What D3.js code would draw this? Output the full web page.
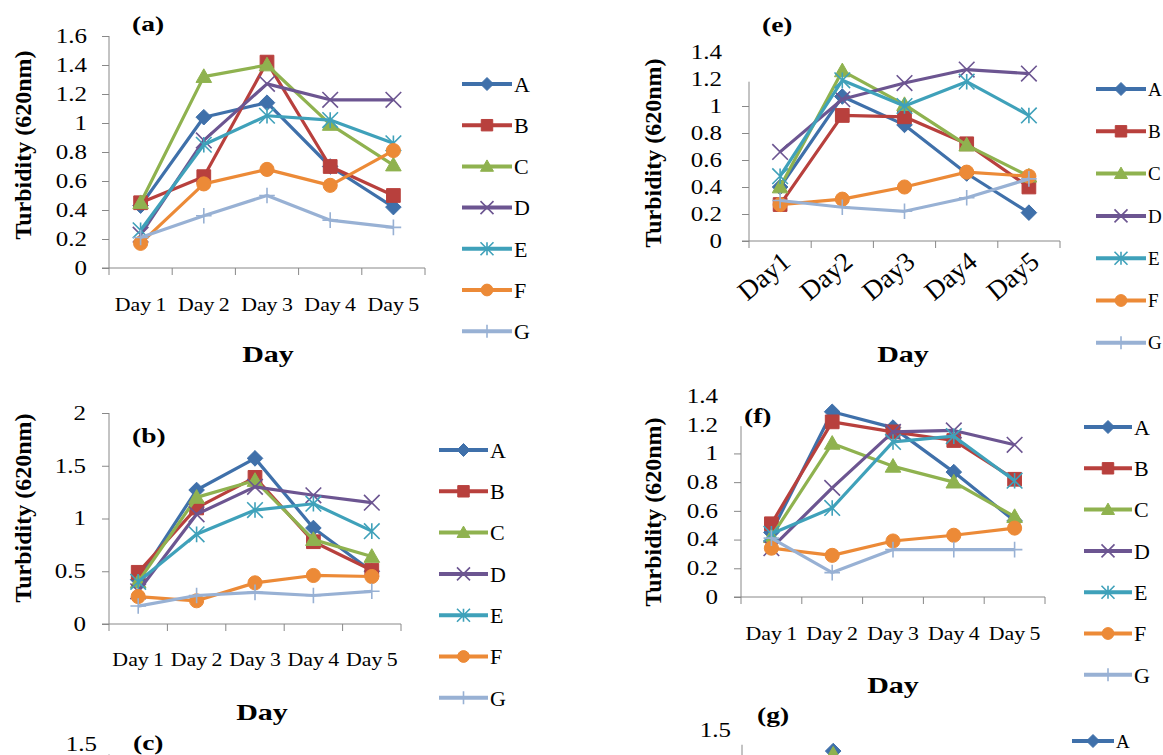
<!DOCTYPE html>
<html>
<head>
<meta charset="utf-8">
<script src="https://cdn.jsdelivr.net/npm/d3@7"></script>
<style>
  body { margin: 0; background: #fff; }
  svg { display: block; }
  text { font-family: "Liberation Serif", "Times New Roman", serif; fill: #000; }
</style>
</head>
<body>
<svg width="1163" height="755"></svg>
<script>
// ***Data***
var days = ["Day1", "Day2", "Day3", "Day4", "Day5"];
var seriesNames = ["A", "B", "C", "D", "E", "F", "G"];
var seriesColors = ["#3f70aa", "#b8403d", "#8fb24f", "#6c5591", "#3fa1ba", "#ec8a37", "#98b1d4"];
var seriesMarkers = ["diamond", "square", "triangle", "x", "star", "circle", "plus"];

// panel (a)
var aA = [0.43, 1.04, 1.14, 0.70, 0.42];
var aB = [0.45, 0.63, 1.42, 0.70, 0.50];
var aC = [0.45, 1.32, 1.40, 0.99, 0.71];
var aD = [0.23, 0.88, 1.27, 1.16, 1.16];
var aE = [0.26, 0.85, 1.05, 1.02, 0.86];
var aF = [0.17, 0.58, 0.68, 0.57, 0.81];
var aG = [0.21, 0.36, 0.50, 0.33, 0.28];
var aTicks = [0, 0.2, 0.4, 0.6, 0.8, 1, 1.2, 1.4, 1.6];

// panel (b)
var bA = [0.42, 1.27, 1.57, 0.91, 0.50];
var bB = [0.49, 1.10, 1.39, 0.78, 0.51];
var bC = [0.40, 1.20, 1.36, 0.80, 0.64];
var bD = [0.31, 1.04, 1.30, 1.22, 1.15];
var bE = [0.40, 0.85, 1.08, 1.14, 0.88];
var bF = [0.26, 0.22, 0.39, 0.46, 0.45];
var bG = [0.17, 0.27, 0.30, 0.27, 0.31];
var bTicks = [0, 0.5, 1, 1.5, 2];

// panel (e)
var eA = [0.40, 1.07, 0.86, 0.50, 0.21];
var eB = [0.27, 0.93, 0.92, 0.72, 0.40];
var eC = [0.40, 1.26, 1.01, 0.71, 0.48];
var eD = [0.66, 1.05, 1.17, 1.27, 1.24];
var eE = [0.48, 1.19, 1.00, 1.18, 0.93];
var eF = [0.27, 0.31, 0.40, 0.51, 0.48];
var eG = [0.30, 0.25, 0.22, 0.32, 0.46];
var eTicks = [0, 0.2, 0.4, 0.6, 0.8, 1, 1.2, 1.4];

// panel (f)
var fA = [0.45, 1.29, 1.18, 0.87, 0.53];
var fB = [0.51, 1.22, 1.15, 1.09, 0.82];
var fC = [0.42, 1.07, 0.91, 0.80, 0.56];
var fD = [0.34, 0.76, 1.15, 1.16, 1.06];
var fE = [0.44, 0.62, 1.08, 1.12, 0.81];
var fF = [0.34, 0.29, 0.39, 0.43, 0.48];
var fG = [0.41, 0.17, 0.33, 0.33, 0.33];
var fTicks = [0, 0.2, 0.4, 0.6, 0.8, 1, 1.2, 1.4];

// panels (c) and (g) are cut off by the bottom edge, only their tops show
var cTicks = [1.5];
var gA = [null, 1.30, null, null, null];
var gC = [null, 1.27, null, null, null];
var gTicks = [1.5];

var svg = d3.select("svg");

function markerPath(type, s) {
  if (type == "diamond") return "M0," + (-s) + "L" + s + ",0L0," + s + "L" + (-s) + ",0Z";
  if (type == "square") { var h = s * 0.88; return "M" + (-h) + "," + (-h) + "H" + h + "V" + h + "H" + (-h) + "Z"; }
  if (type == "triangle") return "M0," + (-s) + "L" + s + "," + (s * 0.75) + "L" + (-s) + "," + (s * 0.75) + "Z";
  if (type == "circle") return d3.symbol(d3.symbolCircle, Math.PI * s * s * 0.82)();
  if (type == "x") return "M" + (-s) + "," + (-s) + "L" + s + "," + s + "M" + (-s) + "," + s + "L" + s + "," + (-s);
  if (type == "star") return "M" + (-s) + "," + (-s) + "L" + s + "," + s + "M" + (-s) + "," + s + "L" + s + "," + (-s) + "M0," + (-s) + "V" + s;
  return "M" + (-s) + ",0H" + s + "M0," + (-s) + "V" + s; // plus
}

function drawMarker(sel, type, color, s) {
  var filled = ["diamond", "square", "triangle", "circle"].indexOf(type) >= 0;
  sel.append("path")
    .attr("d", markerPath(type, s))
    .attr("fill", filled ? color : "none")
    .attr("stroke", color)
    .attr("stroke-width", filled ? 1 : 1.6);
}

// stretch text horizontally round its own anchor (the scanned figure is wider than tall)
function stretch(sel, k) {
  sel.each(function() {
    var t = d3.select(this);
    var x = +t.attr("x") || 0, y = +t.attr("y") || 0;
    t.attr("transform", "translate(" + x + "," + y + ") scale(" + k + ",1) translate(" + (-x) + "," + (-y) + ")");
  });
}

function drawPanel(cfg) {
  var g = svg.append("g");
  var x = d3.scaleBand().domain(days).range([cfg.left, cfg.right]);
  var y = d3.scaleLinear().domain([0, cfg.max]).range([cfg.zero, cfg.top]);
  var cx = function(i) { return x(days[i]) + x.bandwidth() / 2; };

  // y axis
  var gy = g.append("g")
    .attr("transform", "translate(" + cfg.left + ",0)")
    .call(d3.axisLeft(y).tickValues(cfg.ticks).tickSize(7).tickPadding(cfg.yPad).tickFormat(d3.format("~g")));
  gy.select(".domain").remove();
  gy.selectAll(".tick line").attr("stroke", "#888")
    .attr("opacity", function(d) { return d <= cfg.axisTop + 1e-9 ? 1 : 0; });
  gy.selectAll(".tick text")
    .attr("font-family", "Liberation Serif")
    .attr("font-size", 20)
    .attr("x", -(7 + cfg.yPad) / 1.25)
    .attr("transform", "scale(1.25,1)");
  g.append("line")
    .attr("x1", cfg.left).attr("x2", cfg.left)
    .attr("y1", y(cfg.axisTop)).attr("y2", cfg.zero)
    .attr("stroke", "#888");

  // x axis with ticks on category boundaries
  if (!cfg.noX) {
    g.append("line")
      .attr("x1", cfg.left - 7).attr("x2", cfg.right)
      .attr("y1", cfg.zero).attr("y2", cfg.zero)
      .attr("stroke", "#888");
    g.selectAll("line.bound")
      .data(days.map(function(d) { return x(d); }).concat([cfg.right]))
      .enter().append("line")
      .attr("class", "bound")
      .attr("x1", function(d) { return d; }).attr("x2", function(d) { return d; })
      .attr("y1", cfg.zero).attr("y2", cfg.zero + 7)
      .attr("stroke", "#888");

    var gx = g.append("g")
      .attr("transform", "translate(0," + cfg.zero + ")")
      .call(d3.axisBottom(x).tickSize(0).tickPadding(cfg.xPad));
    gx.select(".domain").remove();
    if (cfg.rotate) {
      gx.selectAll(".tick text")
        .attr("font-family", "Liberation Serif")
        .attr("font-size", 27)
        .attr("text-anchor", "end")
        .attr("dy", "0.35em")
        .attr("x", 6).attr("y", 16)
        .attr("transform", "rotate(-40 6 16)");
    } else {
      gx.selectAll(".tick text")
        .attr("font-family", "Liberation Serif")
        .attr("font-size", 19)
        .text(function(d) { return d.replace("Day", "Day\u2009"); })
        .call(stretch, 1.15);
    }
  }

  // series lines and markers
  var line = d3.line()
    .defined(function(d) { return d != null; })
    .x(function(d, i) { return cx(i); })
    .y(function(d) { return y(d); });

  cfg.data.forEach(function(vals, k) {
    if (!vals) return;
    var col = seriesColors[k];
    g.append("path")
      .attr("d", line(vals))
      .attr("fill", "none")
      .attr("stroke", col)
      .attr("stroke-width", 3.2)
      .attr("stroke-linejoin", "round");
    vals.forEach(function(v, i) {
      if (v == null) return;
      var m = g.append("g").attr("transform", "translate(" + cx(i) + "," + y(v) + ")");
      drawMarker(m, seriesMarkers[k], col, 7.8);
    });
  });

  // legend
  cfg.legend.forEach(function(k, j) {
    var ly = cfg.legY + j * cfg.legDy;
    var col = seriesColors[k];
    g.append("line")
      .attr("x1", cfg.legX1).attr("x2", cfg.legX2)
      .attr("y1", ly).attr("y2", ly)
      .attr("stroke", col).attr("stroke-width", 4);
    var m = g.append("g").attr("transform", "translate(" + ((cfg.legX1 + cfg.legX2) / 2) + "," + ly + ")");
    drawMarker(m, seriesMarkers[k], col, 6.5);
    g.append("text")
      .attr("x", cfg.legX2 + 2)
      .attr("y", ly)
      .attr("dy", "0.35em")
      .attr("font-family", cfg.legFont)
      .attr("font-size", cfg.legSize)
      .text(seriesNames[k]);
  });

  // panel label
  g.append("text")
    .attr("x", cfg.label[0]).attr("y", cfg.label[1])
    .attr("font-size", 22).attr("font-weight", "bold")
    .text(cfg.name)
    .call(stretch, 1.25);

  // axis titles
  g.append("text")
    .attr("transform", "translate(" + cfg.yTitle[0] + "," + cfg.yTitle[1] + ") rotate(-90)")
    .attr("text-anchor", "middle")
    .attr("dy", "0.35em")
    .attr("font-size", 24).attr("font-weight", "bold")
    .text("Turbidity (620nm)");
  if (cfg.xTitle) {
    g.append("text")
      .attr("x", cfg.xTitle[0]).attr("y", cfg.xTitle[1])
      .attr("text-anchor", "middle")
      .attr("font-size", 24).attr("font-weight", "bold")
      .text("Day")
      .call(stretch, 1.25);
  }
}

var all = [0, 1, 2, 3, 4, 5, 6];

drawPanel({ name: "(a)", left: 109, right: 425, zero: 268, top: 36, max: 1.6, axisTop: 1.6,
  ticks: aTicks, yPad: 15, xPad: 30, data: [aA, aB, aC, aD, aE, aF, aG],
  label: [132, 31], yTitle: [23, 145], xTitle: [268, 362],
  legend: all, legX1: 462, legX2: 512, legY: 84, legDy: 41.2, legFont: "Liberation Serif", legSize: 22 });

drawPanel({ name: "(b)", left: 109, right: 401, zero: 624, top: 413, max: 2, axisTop: 2,
  ticks: bTicks, yPad: 16, xPad: 29, data: [bA, bB, bC, bD, bE, bF, bG],
  label: [132, 443], yTitle: [23, 508], xTitle: [262, 720],
  legend: all, legX1: 439, legX2: 488, legY: 450, legDy: 41.3, legFont: "Liberation Serif", legSize: 22 });

drawPanel({ name: "(e)", left: 749, right: 1060, zero: 241, top: 52, max: 1.4, axisTop: 1.18,
  ticks: eTicks, yPad: 20, xPad: 12, rotate: true, data: [eA, eB, eC, eD, eE, eF, eG],
  label: [762, 32], yTitle: [653, 153], xTitle: [903, 362],
  legend: all, legX1: 1096, legX2: 1146, legY: 89, legDy: 42.3, legFont: "Lato", legSize: 19 });

drawPanel({ name: "(f)", left: 741, right: 1045, zero: 597, top: 396, max: 1.4, axisTop: 1.19,
  ticks: fTicks, yPad: 16, xPad: 30, data: [fA, fB, fC, fD, fE, fF, fG],
  label: [744, 423], yTitle: [653, 512], xTitle: [893, 693],
  legend: all, legX1: 1084, legX2: 1132, legY: 427, legDy: 41.3, legFont: "Liberation Serif", legSize: 22 });

drawPanel({ name: "(c)", left: 109, right: 401, zero: 900, top: 744, max: 1.5, axisTop: 1.4,
  ticks: cTicks, yPad: 5, xPad: 29, noX: true, data: [],
  label: [133, 750], yTitle: [23, 858], xTitle: null,
  legend: [], legX1: 439, legX2: 488, legY: 800, legDy: 41.3, legFont: "Liberation Serif", legSize: 22 });

drawPanel({ name: "(g)", left: 742, right: 1046, zero: 888, top: 730, max: 1.5, axisTop: 1.36,
  ticks: gTicks, yPad: 4, xPad: 29, noX: true, data: [gA, null, gC],
  label: [757, 722], yTitle: [655, 850], xTitle: null,
  legend: [0], legX1: 1072, legX2: 1114, legY: 741, legDy: 41.3, legFont: "Liberation Serif", legSize: 19 });
</script>
</body>
</html>
